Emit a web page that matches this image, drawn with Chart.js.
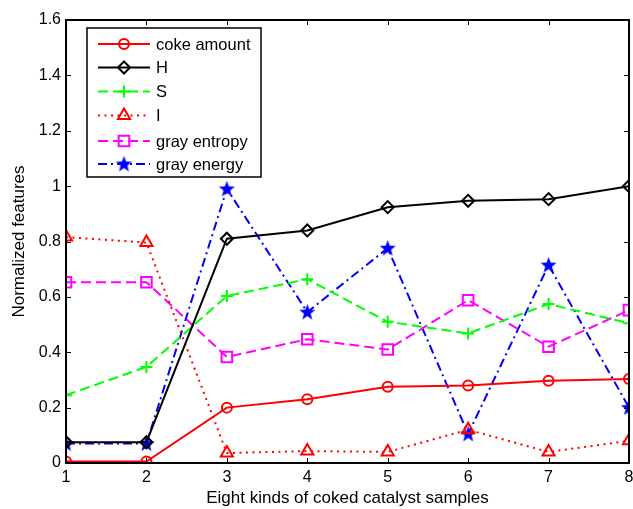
<!DOCTYPE html>
<html>
<head>
<meta charset="utf-8">
<script src="https://cdn.jsdelivr.net/npm/chart.js@4.4.1/dist/chart.umd.min.js"></script>
<style>
  html, body { margin: 0; padding: 0; background: #fff; }
  #wrap { width: 633px; height: 509px; overflow: hidden; position: relative; }
  #c { display: block; }
</style>
</head>
<body>
<div id="wrap"><canvas id="c" width="660" height="509"></canvas></div>
<script>
const samples = [1, 2, 3, 4, 5, 6, 7, 8];
const cokeAmount = [0.005, 0.005, 0.2, 0.23, 0.275, 0.28, 0.297, 0.303];
const hValues = [0.075, 0.075, 0.81, 0.84, 0.924, 0.947, 0.953, 1.0];
const sValues = [0.245, 0.347, 0.603, 0.664, 0.51, 0.468, 0.574, 0.505];
const iValues = [0.816, 0.796, 0.036, 0.043, 0.04, 0.12, 0.04, 0.08];
const grayEntropy = [0.653, 0.653, 0.383, 0.447, 0.41, 0.588, 0.42, 0.552];
const grayEnergy = [0.07, 0.07, 0.99, 0.545, 0.776, 0.105, 0.715, 0.2];
const yTicks = [0, 0.2, 0.4, 0.6, 0.8, 1, 1.2, 1.4, 1.6];

const FONT = '"Liberation Sans", Arial, sans-serif';

// filled five point star for the gray energy marker
function makeStar(size, color) {
    const cv = document.createElement('canvas');
    cv.width = size; cv.height = size;
    const g = cv.getContext('2d');
    const cx = size / 2, cy = size / 2 + 0.5, ro = size / 2, ri = ro * 0.42;
    g.beginPath();
    for (let k = 0; k < 10; k++) {
        const r = k % 2 === 0 ? ro : ri;
        const a = -Math.PI / 2 + k * Math.PI / 5;
        g.lineTo(cx + r * Math.cos(a), cy + r * Math.sin(a));
    }
    g.closePath();
    g.fillStyle = color;
    g.fill();
    return cv;
}
const star = makeStar(17, '#0000ff');

function ds(label, data, color, dash, style, radius) {
    return {
        label: label,
        data: data,
        borderColor: color,
        backgroundColor: color,
        borderWidth: 2,
        borderDash: dash,
        pointStyle: style,
        pointRadius: radius,
        pointBorderColor: color,
        pointBackgroundColor: 'rgba(0,0,0,0)',
        pointBorderWidth: 2,
        tension: 0,
        fill: false
    };
}

const frame = {
    id: 'frame',
    afterDraw(chart) {
        const ctx = chart.ctx, a = chart.chartArea;
        const xs = chart.scales.x, ys = chart.scales.y;
        ctx.save();
        ctx.strokeStyle = '#000';
        ctx.lineWidth = 2;
        ctx.strokeRect(a.left, a.top, a.right - a.left, a.bottom - a.top);
        ctx.lineWidth = 1;
        ctx.beginPath();
        samples.forEach(v => {
            const px = Math.round(xs.getPixelForValue(v)) + 0.5;
            ctx.moveTo(px, a.bottom); ctx.lineTo(px, a.bottom - 5);
            ctx.moveTo(px, a.top); ctx.lineTo(px, a.top + 5);
        });
        yTicks.forEach(v => {
            const py = Math.round(ys.getPixelForValue(v)) + 0.5;
            ctx.moveTo(a.left, py); ctx.lineTo(a.left + 5, py);
            ctx.moveTo(a.right, py); ctx.lineTo(a.right - 5, py);
        });
        ctx.stroke();

        // legend box, matlab style
        const lx = 87, ly = 28, lw = 174, lh = 149;
        ctx.fillStyle = '#fff';
        ctx.fillRect(lx, ly, lw, lh);
        ctx.lineWidth = 1.5;
        ctx.strokeRect(lx, ly, lw, lh);
        ctx.font = '16.5px ' + FONT;
        ctx.textBaseline = 'middle';
        const rows = [44, 67.5, 91.5, 115.5, 141, 164];
        chart.data.datasets.forEach((d, i) => {
            const y = rows[i];
            ctx.save();
            ctx.strokeStyle = d.borderColor;
            ctx.lineWidth = 2;
            ctx.setLineDash(d.borderDash || []);
            ctx.beginPath();
            ctx.moveTo(98, y); ctx.lineTo(150, y);
            ctx.stroke();
            ctx.restore();
            ctx.save();
            ctx.strokeStyle = d.borderColor;
            ctx.fillStyle = 'rgba(0,0,0,0)';
            ctx.lineWidth = 2;
            Chart.helpers.drawPoint(ctx, {pointStyle: d.pointStyle, radius: d.pointRadius, rotation: 0, borderWidth: 2}, 124, y);
            ctx.restore();
            ctx.fillStyle = '#000';
            ctx.fillText(d.label, 156, y + 1);
        });
        ctx.restore();
    }
};

new Chart(document.getElementById('c'), {
    type: 'line',
    data: {
        datasets: [
            ds('coke amount', samples.map((x, i) => ({x: x, y: cokeAmount[i]})), '#ff0000', [], 'circle', 5),
            ds('H', samples.map((x, i) => ({x: x, y: hValues[i]})), '#000000', [], 'rectRot', 6),
            ds('S', samples.map((x, i) => ({x: x, y: sValues[i]})), '#00ff00', [10, 5], 'cross', 6),
            ds('I', samples.map((x, i) => ({x: x, y: iValues[i]})), '#ff0000', [2, 4.5], 'triangle', 7),
            ds('gray entropy', samples.map((x, i) => ({x: x, y: grayEntropy[i]})), '#ff00ff', [10, 5], 'rect', 7.5),
            ds('gray energy', samples.map((x, i) => ({x: x, y: grayEnergy[i]})), '#0000ff', [9, 4, 2, 4], star, 8)
        ]
    },
    options: {
        responsive: false,
        animation: false,
        layout: { padding: { top: 20, right: 31, left: 0, bottom: 0 } },
        plugins: { legend: { display: false }, tooltip: { enabled: false } },
        scales: {
            x: {
                type: 'linear',
                min: 1, max: 8,
                afterBuildTicks: s => { s.ticks = samples.map(v => ({value: v})); },
                afterFit: s => { s.height = 46; },
                grid: { display: false, drawTicks: false },
                border: { display: false },
                ticks: { color: '#000', padding: 5, font: { family: FONT, size: 16 } },
                title: { display: true, text: 'Eight kinds of coked catalyst samples', color: '#000', padding: { top: 0, bottom: 0 },
                    font: { family: FONT, size: 17 } }
            },
            y: {
                min: 0, max: 1.6,
                afterBuildTicks: s => { s.ticks = yTicks.map(v => ({value: v})); },
                afterFit: s => { s.width = 66; },
                grid: { display: false, drawTicks: false },
                border: { display: false },
                ticks: { color: '#000', padding: 5, font: { family: FONT, size: 16 },
                    callback: v => String(Math.round(v * 10) / 10) },
                title: { display: true, text: 'Normalized features', color: '#000', padding: { top: 9, bottom: 0 },
                    font: { family: FONT, size: 17 } }
            }
        }
    },
    plugins: [frame]
});
</script>
</body>
</html>
